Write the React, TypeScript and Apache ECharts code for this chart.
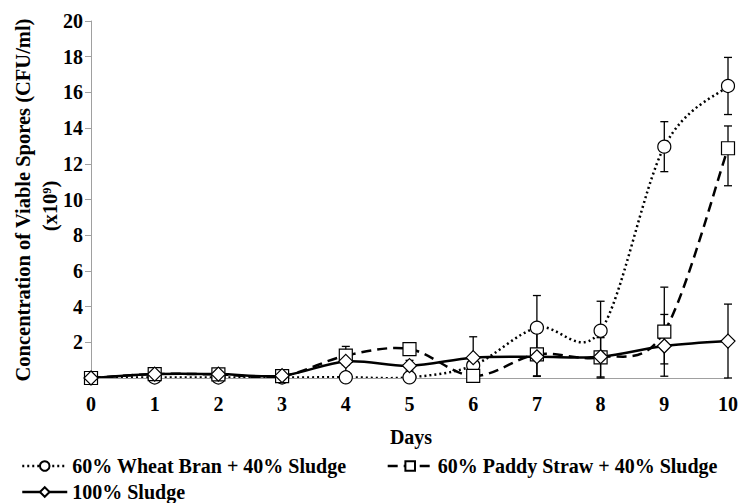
import React, { useEffect, useRef } from "react";
import * as echarts from "echarts";

const days = [0, 1, 2, 3, 4, 5, 6, 7, 8, 9, 10];
const yTicks = [0, 2, 4, 6, 8, 10, 12, 14, 16, 18, 20];

const wheatName = "60% Wheat Bran + 40% Sludge";
const paddyName = "60% Paddy Straw + 40% Sludge";
const sludgeName = "100% Sludge";

const wheat = [0, 0.03, 0.03, 0.03, 0.04, 0.04, 0.7, 2.82, 2.65, 12.96, 16.36];
const wheatErrUp = [0, 0, 0, 0, 0, 0, 0, 1.8, 1.65, 1.4, 1.6];
const wheatErrDown = [0, 0, 0, 0, 0, 0, 0, 1.8, 1.65, 1.4, 1.6];

const paddy = [0, 0.22, 0.2, 0.1, 1.25, 1.62, 0.12, 1.32, 1.16, 2.6, 12.87];
const paddyErrUp = [0, 0, 0, 0, 0.52, 0, 0, 1.2, 1.1, 0.96, 1.25];
const paddyErrDown = [0, 0, 0, 0, 0.52, 0, 0, 1.2, 1.1, 2.5, 2.1];

const sludge = [0, 0.22, 0.22, 0.13, 0.93, 0.69, 1.14, 1.19, 1.19, 1.79, 2.07];
const sludgeErrUp = [0, 0, 0, 0, 0.6, 0.3, 1.17, 0.3, 0.3, 3.3, 2.07];
const sludgeErrDown = [0, 0, 0, 0, 0.6, 0.3, 1.17, 1.1, 1.19, 1.0, 2.07];

const FONT = "Liberation Serif";

const wheatDash = [2, 3];
const paddyDash = [10, 6];

function errData(vals: number[], up: number[], down: number[]) {
  const out: number[][] = [];
  days.forEach((d, i) => {
    if (up[i] > 0 || down[i] > 0) {
      out.push([d, vals[i] - down[i], vals[i] + up[i]]);
    }
  });
  return out;
}

function errSeries(name: string, data: number[][]) {
  return {
    type: "custom",
    name: name + " err",
    z: 1,
    silent: true,
    encode: { x: 0, y: [1, 2] },
    data,
    renderItem: (params: any, api: any) => {
      const x = api.value(0);
      const lo = api.value(1);
      const hi = api.value(2);
      const clamped = lo < 0;
      const pHi = api.coord([x, hi]);
      const pLo = api.coord([x, Math.max(0, lo)]);
      const style = { stroke: "#000", lineWidth: 1.3 };
      const cw = 4;
      const children: any[] = [
        { type: "line", shape: { x1: pHi[0], y1: pHi[1], x2: pLo[0], y2: pLo[1] }, style },
        { type: "line", shape: { x1: pHi[0] - cw, y1: pHi[1], x2: pHi[0] + cw, y2: pHi[1] }, style },
      ];
      if (!clamped) {
        children.push({
          type: "line",
          shape: { x1: pLo[0] - cw, y1: pLo[1], x2: pLo[0] + cw, y2: pLo[1] },
          style,
        });
      }
      return { type: "group", children };
    },
  };
}

// Excel-like smoothed line: Catmull-Rom segments drawn as bezier curves in pixel space
function splineSeries(name: string, vals: number[], dash: any) {
  const n = vals.length;
  return {
    type: "custom",
    name: name + " line",
    z: 2,
    silent: true,
    clip: true,
    encode: { x: 0, y: 1 },
    data: days.slice(0, n - 1).map((d, i) => [d, vals[i]]),
    renderItem: (params: any, api: any) => {
      const i = params.dataIndex;
      const P = (k: number) => {
        const kk = Math.max(0, Math.min(n - 1, k));
        return api.coord([days[kk], vals[kk]]);
      };
      const p0 = P(i - 1);
      const p1 = P(i);
      const p2 = P(i + 1);
      const p3 = P(i + 2);
      const t = 1 / 6;
      return {
        type: "bezierCurve",
        shape: {
          x1: p1[0],
          y1: p1[1],
          cpx1: p1[0] + (p2[0] - p0[0]) * t,
          cpy1: p1[1] + (p2[1] - p0[1]) * t,
          cpx2: p2[0] - (p3[0] - p1[0]) * t,
          cpy2: p2[1] - (p3[1] - p1[1]) * t,
          x2: p2[0],
          y2: p2[1],
        },
        style: { stroke: "#000", lineWidth: 2.5, fill: null, lineDash: dash },
      };
    },
  };
}

export default function App() {
  const ref = useRef<HTMLDivElement>(null);
  useEffect(() => {
    if (!ref.current) return;
    const chart = echarts.init(ref.current, undefined, { renderer: "svg" });
    const markerStyle = { color: "#fff", borderColor: "#000", borderWidth: 1.2 };
    const legendText = { fontFamily: FONT, fontWeight: "bold", fontSize: 20, color: "#000" };
    const hiddenLine = { width: 0, opacity: 0 };
    chart.setOption({
      animation: false,
      backgroundColor: "#fff",
      grid: { left: 91, right: 14, top: 21, bottom: 125 },
      xAxis: {
        type: "value",
        min: 0,
        max: 10,
        interval: 1,
        axisLine: { lineStyle: { color: "#a0a0a0", width: 1 } },
        axisTick: { show: false },
        splitLine: { show: false },
        axisLabel: { fontFamily: FONT, fontWeight: "bold", fontSize: 20, color: "#000", margin: 16 },
      },
      yAxis: {
        type: "value",
        min: yTicks[0],
        max: yTicks[yTicks.length - 1],
        interval: 2,
        axisLine: { show: true, lineStyle: { color: "#a0a0a0", width: 1 } },
        axisTick: { show: true, length: 6, lineStyle: { color: "#a0a0a0" } },
        splitLine: { show: false },
        axisLabel: {
          fontFamily: FONT,
          fontWeight: "bold",
          fontSize: 20,
          color: "#000",
          margin: 8,
          formatter: (v: number) => (v === 0 ? "" : String(v)),
        },
      },
      legend: [
        {
          data: [
            { name: wheatName, lineStyle: { color: "#000", width: 2.5, type: wheatDash, opacity: 1 } },
            { name: paddyName, lineStyle: { color: "#000", width: 2.5, type: paddyDash, opacity: 1 } },
          ],
          left: 16,
          top: 451,
          itemWidth: 45,
          itemHeight: 12,
          itemGap: 40,
          textStyle: legendText,
        },
        {
          data: [{ name: sludgeName, lineStyle: { color: "#000", width: 2.5, type: "solid", opacity: 1 } }],
          left: 16,
          top: 477,
          itemWidth: 45,
          itemHeight: 12,
          textStyle: legendText,
        },
      ],
      graphic: [
        {
          type: "text",
          x: 23,
          y: 200,
          rotation: Math.PI / 2,
          style: {
            text: "Concentration of Viable Spores (CFU/ml)",
            fontFamily: FONT,
            fontWeight: "bold",
            fontSize: 20.5,
            fill: "#000",
            align: "center",
            verticalAlign: "middle",
          },
        },
        {
          type: "text",
          x: 50,
          y: 206,
          rotation: Math.PI / 2,
          style: {
            text: "(x10⁹)",
            fontFamily: FONT,
            fontWeight: "bold",
            fontSize: 20.5,
            fill: "#000",
            align: "center",
            verticalAlign: "middle",
          },
        },
        {
          type: "text",
          x: 411,
          y: 437,
          style: {
            text: "Days",
            fontFamily: FONT,
            fontWeight: "bold",
            fontSize: 20,
            fill: "#000",
            align: "center",
            verticalAlign: "middle",
          },
        },
      ],
      series: [
        errSeries(wheatName, errData(wheat, wheatErrUp, wheatErrDown)),
        errSeries(paddyName, errData(paddy, paddyErrUp, paddyErrDown)),
        errSeries(sludgeName, errData(sludge, sludgeErrUp, sludgeErrDown)),
        splineSeries(wheatName, wheat, wheatDash),
        splineSeries(paddyName, paddy, paddyDash),
        splineSeries(sludgeName, sludge, null),
        {
          type: "line",
          name: wheatName,
          z: 3,
          data: days.map((d, i) => [d, wheat[i]]),
          symbol: "circle",
          symbolSize: 13,
          showAllSymbol: true,
          lineStyle: hiddenLine,
          itemStyle: markerStyle,
        },
        {
          type: "line",
          name: paddyName,
          z: 4,
          data: days.map((d, i) => [d, paddy[i]]),
          symbol: "rect",
          symbolSize: 13,
          showAllSymbol: true,
          lineStyle: hiddenLine,
          itemStyle: markerStyle,
        },
        {
          type: "line",
          name: sludgeName,
          z: 5,
          data: days.map((d, i) => [d, sludge[i]]),
          symbol: "diamond",
          symbolSize: [14, 14],
          showAllSymbol: true,
          lineStyle: hiddenLine,
          itemStyle: markerStyle,
        },
      ],
    });
    return () => chart.dispose();
  }, []);
  return <div ref={ref} style={{ width: 742, height: 503, position: "absolute", left: 0, top: 0 }} />;
}
